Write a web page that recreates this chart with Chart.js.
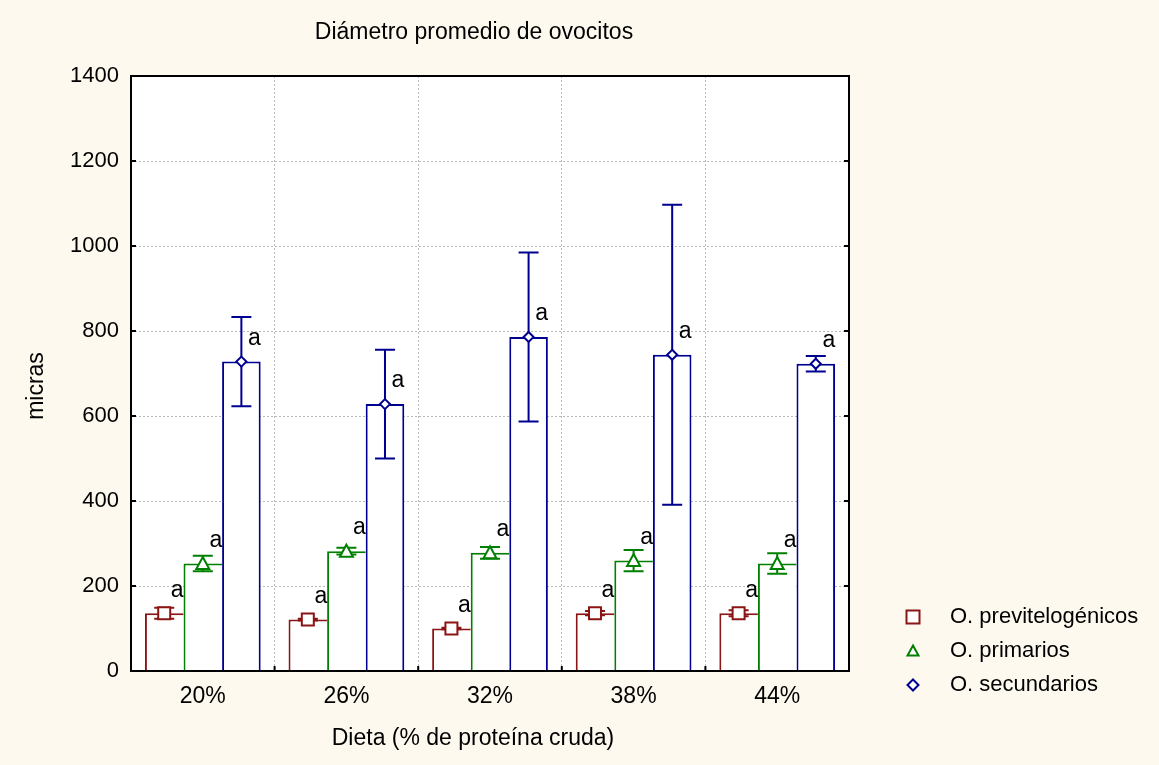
<!DOCTYPE html>
<html>
<head>
<meta charset="utf-8">
<script src="https://cdn.jsdelivr.net/npm/chart.js@4/dist/chart.umd.min.js"></script>
<style>
  html, body { margin: 0; padding: 0; background: #fdf9ef; }
  #wrap { width: 1159px; height: 765px; }
</style>
</head>
<body>
<div id="wrap"><canvas id="c" width="1159" height="765"></canvas></div>
<script>
// Diámetro medio de ovocitos por dieta (media ± error)
const dietas = ['20%', '26%', '32%', '38%', '44%'];
const previtelogenicos    = [136, 121, 100, 136, 136];
const previtelogenicosErr = [13, 2, 2, 5, 7];
const primarios           = [253, 282, 278, 260, 253];
const primariosErr        = [18, 8, 14, 25, 24];
const secundarios         = [728, 628, 786, 744, 723];
const secundariosErr      = [105, 128, 199, 353, 18];
const letras = [
  ['a', 'a', 'a', 'a', 'a'],
  ['a', 'a', 'a', 'a', 'a'],
  ['a', 'a', 'a', 'a', 'a']
];
const nombres = ['O. previtelogénicos', 'O. primarios', 'O. secundarios'];
const colores = ['#8b1414', '#008000', '#000090'];
const marcas = ['square', 'triangle', 'diamond'];
const yMin = 0, yMax = 1400, yPaso = 200;

const FONT = '"Liberation Sans", Arial, sans-serif';

function drawMarker(ctx, kind, x, y, color, s) {
  ctx.save();
  ctx.fillStyle = '#ffffff';
  ctx.strokeStyle = color;
  ctx.lineWidth = 2;
  ctx.beginPath();
  if (kind === 'square') {
    ctx.rect(x - s / 2, y - s / 2, s, s);
  } else if (kind === 'triangle') {
    ctx.moveTo(x, y - s / 2);
    ctx.lineTo(x + s / 2, y + s / 2 - 1);
    ctx.lineTo(x - s / 2, y + s / 2 - 1);
    ctx.closePath();
  } else {
    const h = s / 2;
    ctx.moveTo(x, y - h);
    ctx.lineTo(x + h, y);
    ctx.lineTo(x, y + h);
    ctx.lineTo(x - h, y);
    ctx.closePath();
  }
  ctx.fill();
  ctx.stroke();
  ctx.restore();
}

const tamMarca = { square: 12, triangle: 13, diamond: 10 };

const decoracion = {
  id: 'decoracion',
  beforeDraw(chart) {
    const { ctx, chartArea: a } = chart;
    ctx.save();
    ctx.fillStyle = '#fdf9ef';
    ctx.fillRect(0, 0, chart.width, chart.height);
    ctx.fillStyle = '#ffffff';
    ctx.fillRect(a.left, a.top, a.right - a.left, a.bottom - a.top);
    ctx.restore();
  },
  afterDatasetsDraw(chart) {
    const { ctx, chartArea: a, scales } = chart;
    const y = scales.y;
    const errores = [previtelogenicosErr, primariosErr, secundariosErr];

    chart.data.datasets.forEach((ds, di) => {
      const meta = chart.getDatasetMeta(di);
      meta.data.forEach((bar, i) => {
        const v = ds.data[i];
        const e = errores[di][i];
        const x = bar.x;
        const yv = y.getPixelForValue(v);
        const yHi = y.getPixelForValue(v + e);
        const yLo = y.getPixelForValue(v - e);
        ctx.save();
        ctx.strokeStyle = colores[di];
        ctx.lineWidth = 2;
        ctx.beginPath();
        ctx.moveTo(x, yHi); ctx.lineTo(x, yLo);
        ctx.moveTo(x - 10, yHi); ctx.lineTo(x + 10, yHi);
        ctx.moveTo(x - 10, yLo); ctx.lineTo(x + 10, yLo);
        ctx.stroke();
        ctx.restore();
        drawMarker(ctx, marcas[di], x, yv, colores[di], tamMarca[marcas[di]]);
        ctx.save();
        ctx.fillStyle = '#000';
        ctx.font = '23px ' + FONT;
        ctx.textAlign = 'center';
        ctx.textBaseline = 'middle';
        ctx.fillText(letras[di][i], x + 13, yv - 23);
        ctx.restore();
      });
    });

    // marco y marcas interiores
    ctx.save();
    ctx.strokeStyle = '#000';
    ctx.lineWidth = 2;
    ctx.strokeRect(a.left, a.top, a.right - a.left, a.bottom - a.top);
    ctx.beginPath();
    for (let v = yMin; v <= yMax; v += yPaso) {
      const p = y.getPixelForValue(v);
      ctx.moveTo(a.left, p); ctx.lineTo(a.left + 5, p);
      ctx.moveTo(a.right, p); ctx.lineTo(a.right - 5, p);
    }
    const n = dietas.length;
    const w = (a.right - a.left) / n;
    for (let k = 1; k < n; k++) {
      const px = a.left + k * w;
      ctx.moveTo(px, a.bottom); ctx.lineTo(px, a.bottom - 5);
    }
    ctx.stroke();
    ctx.restore();

    // títulos
    ctx.save();
    ctx.fillStyle = '#000';
    ctx.font = '23px ' + FONT;
    ctx.textAlign = 'center';
    ctx.textBaseline = 'middle';
    ctx.fillText('Diámetro promedio de ovocitos', 474, 33);
    ctx.fillText('Dieta (% de proteína cruda)', 473, 739);
    ctx.translate(37, 386);
    ctx.rotate(-Math.PI / 2);
    ctx.fillText('micras', 0, 0);
    ctx.restore();

    // leyenda
    const filas = [617, 651, 685];
    nombres.forEach((nm, di) => {
      const s = { square: 13, triangle: 11, diamond: 11 }[marcas[di]];
      drawMarker(ctx, marcas[di], 913, filas[di], colores[di], s);
      ctx.save();
      ctx.fillStyle = '#000';
      ctx.font = '22px ' + FONT;
      ctx.textAlign = 'left';
      ctx.textBaseline = 'middle';
      ctx.fillText(nm, 950, filas[di]);
      ctx.restore();
    });
  }
};

const conjuntos = [previtelogenicos, primarios, secundarios].map((serie, di) => ({
  label: nombres[di],
  data: serie,
  backgroundColor: '#ffffff',
  borderColor: colores[di],
  borderWidth: di === 2 ? { left: 2, top: 2, right: 2, bottom: 0 } : { left: 2, top: 2, right: 0, bottom: 0 },
  borderSkipped: false,
  categoryPercentage: 0.806,
  barPercentage: 1.0
}));

new Chart(document.getElementById('c'), {
  type: 'bar',
  data: { labels: dietas, datasets: conjuntos },
  options: {
    responsive: false,
    animation: false,
    devicePixelRatio: 1,
    layout: { padding: { top: 76, right: 310, bottom: 0, left: 0 } },
    plugins: {
      legend: { display: false },
      title: { display: false },
      tooltip: { enabled: false }
    },
    scales: {
      x: {
        offset: true,
        grid: { display: true, offset: true, color: '#b8b8b8', lineWidth: 1, drawTicks: false },
        border: { display: false, dash: [2, 2] },
        ticks: { color: '#000', font: { family: FONT, size: 23 }, padding: 12 },
        afterFit(s) { s.height = 94; }
      },
      y: {
        min: yMin,
        max: yMax,
        grid: { display: true, color: '#b8b8b8', lineWidth: 1, drawTicks: false },
        border: { display: false, dash: [2, 2] },
        ticks: {
          stepSize: yPaso,
          color: '#000',
          font: { family: FONT, size: 22 },
          padding: 12,
          callback: (v) => String(v)
        },
        afterFit(s) { s.width = 131; }
      }
    }
  },
  plugins: [decoracion]
});
</script>
</body>
</html>
